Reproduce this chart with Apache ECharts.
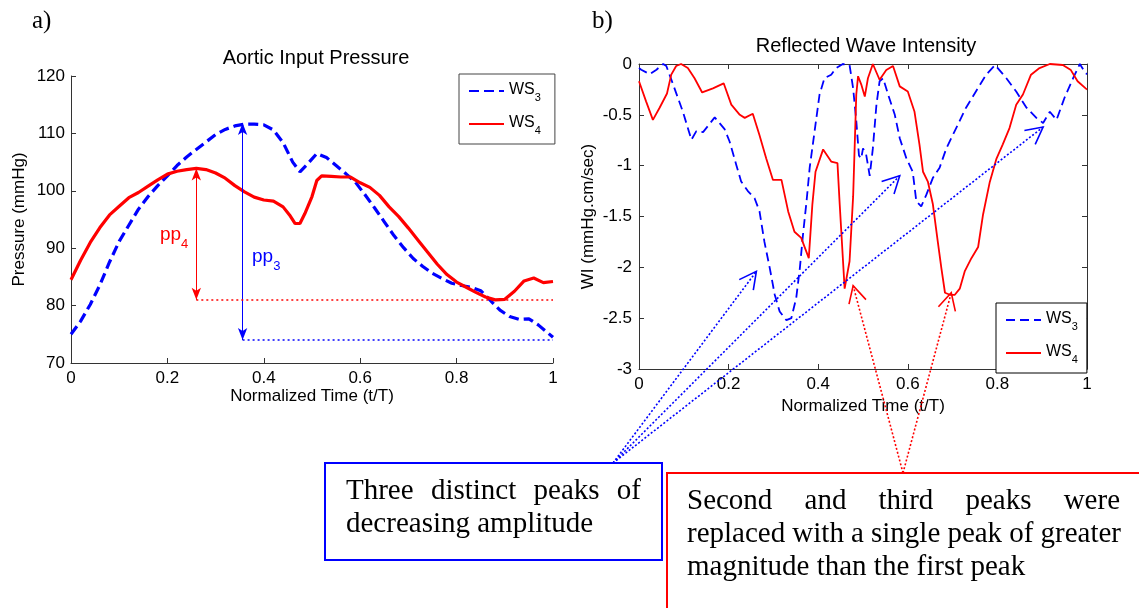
<!DOCTYPE html>
<html>
<head>
<meta charset="utf-8">
<title>Aortic input pressure and reflected wave intensity</title>
<script src="https://cdn.jsdelivr.net/npm/echarts@6/dist/echarts.min.js"></script>
<style>
  html, body { margin: 0; padding: 0; background: #fff; }
  #main { width: 1139px; height: 608px; }
</style>
</head>
<body>
<div id="main"></div>
<script>
// a) aortic input pressure (mmHg) against normalized time
var pressTimeWS3 = [0, 0.02, 0.04, 0.06, 0.08, 0.10, 0.12, 0.14, 0.16, 0.18, 0.20, 0.22, 0.24, 0.26, 0.28,
  0.30, 0.32, 0.34, 0.36, 0.38, 0.40, 0.42, 0.44, 0.46, 0.475, 0.49, 0.51, 0.53, 0.55, 0.57, 0.59, 0.61,
  0.63, 0.65, 0.67, 0.69, 0.71, 0.73, 0.75, 0.77, 0.79, 0.81, 0.83, 0.85, 0.87, 0.89, 0.91, 0.93, 0.95,
  0.97, 0.99, 1.0]
var pressWS3 = [75.0, 77.3, 80.2, 83.6, 87.6, 91.2, 94.0, 96.8, 99.0, 100.9, 102.6, 104.4, 105.9, 107.2, 108.5,
  109.8, 110.7, 111.3, 111.6, 111.6, 111.5, 110.6, 108.4, 105.0, 103.3, 104.6, 106.5, 105.8, 104.4, 103.0, 101.5, 99.3,
  97.0, 94.6, 92.2, 90.1, 88.2, 86.8, 85.6, 84.7, 83.9, 83.5, 83.2, 82.6, 80.9, 79.2, 78.1, 77.6, 77.7,
  76.6, 75.2, 74.5]
var pressTimeWS4 = [0, 0.02, 0.04, 0.06, 0.08, 0.10, 0.12, 0.14, 0.16, 0.18, 0.20, 0.22, 0.24, 0.26, 0.28,
  0.30, 0.32, 0.34, 0.36, 0.38, 0.40, 0.42, 0.44, 0.455, 0.465, 0.475, 0.485, 0.50, 0.51, 0.52, 0.54, 0.56,
  0.58, 0.60, 0.62, 0.64, 0.66, 0.68, 0.70, 0.72, 0.74, 0.76, 0.78, 0.80, 0.82, 0.84, 0.86, 0.88, 0.90,
  0.92, 0.94, 0.96, 0.98, 1.0]
var pressWS4 = [84.5, 87.9, 91.0, 93.6, 95.8, 97.3, 98.8, 99.7, 100.8, 101.9, 102.9, 103.4, 103.7, 103.9, 103.7,
  103.1, 102.2, 100.9, 99.8, 98.9, 98.4, 98.2, 97.2, 95.6, 94.3, 94.3, 96.0, 99.0, 101.8, 102.6, 102.5, 102.4,
  102.4, 101.4, 100.6, 99.2, 97.2, 95.5, 93.5, 91.4, 89.3, 87.2, 85.4, 84.1, 83.2, 82.3, 81.5, 81.0, 81.1,
  82.5, 84.3, 84.8, 84.0, 84.2]

// b) reflected wave intensity (mmHg.cm/sec)
var wiTimeWS3 = [0, 0.005, 0.024, 0.039, 0.054, 0.061, 0.076, 0.098, 0.117, 0.128,
  0.143, 0.169, 0.191, 0.202, 0.217, 0.228, 0.243, 0.258, 0.269, 0.280,
  0.292, 0.303, 0.314, 0.329, 0.340, 0.351, 0.359, 0.366, 0.374, 0.381,
  0.392, 0.403, 0.414, 0.429, 0.440, 0.455, 0.470, 0.478, 0.485, 0.491,
  0.496, 0.500, 0.507, 0.515, 0.522, 0.530, 0.537, 0.545, 0.556, 0.571,
  0.582, 0.597, 0.611, 0.619, 0.630, 0.641, 0.656, 0.671, 0.686, 0.708,
  0.730, 0.752, 0.775, 0.795, 0.820, 0.842, 0.865, 0.887, 0.902, 0.917,
  0.932, 0.950, 0.969, 0.984, 0.997, 1.0]
var wiWS3 = [-0.04, -0.056, -0.10, -0.056, 0, -0.02, -0.20, -0.47, -0.745, -0.66,
  -0.67, -0.525, -0.64, -0.76, -0.99, -1.155, -1.25, -1.32, -1.45, -1.75,
  -2.01, -2.27, -2.435, -2.52, -2.50, -2.30, -2.01, -1.68, -1.35, -1.02,
  -0.66, -0.30, -0.14, -0.105, -0.04, 0, -0.01, -0.24, -0.56, -0.90,
  -0.93, -0.83, -0.89, -1.10, -0.83, -0.40, -0.17, -0.14, -0.30, -0.50,
  -0.73, -0.93, -1.06, -1.35, -1.40, -1.29, -1.12, -1.02, -0.83, -0.63,
  -0.43, -0.27, -0.105, -0.01, -0.14, -0.27, -0.43, -0.53, -0.58, -0.47,
  -0.55, -0.33, -0.14, 0, -0.09, -0.10]
var wiTimeWS4 = [0, 0.016, 0.031, 0.046, 0.0625, 0.072, 0.083, 0.094, 0.109, 0.124,
  0.141, 0.165, 0.189, 0.206, 0.225, 0.236, 0.254, 0.269, 0.284, 0.299,
  0.318, 0.333, 0.347, 0.362, 0.379, 0.387, 0.394, 0.411, 0.429, 0.443,
  0.448, 0.459, 0.470, 0.478, 0.485, 0.489, 0.496, 0.504, 0.511, 0.522,
  0.537, 0.552, 0.567, 0.582, 0.600, 0.615, 0.626, 0.634, 0.645, 0.656,
  0.667, 0.675, 0.683, 0.694, 0.705, 0.716, 0.727, 0.742, 0.757, 0.768,
  0.783, 0.798, 0.812, 0.827, 0.842, 0.857, 0.875, 0.894, 0.917, 0.946,
  0.964, 0.979, 0.997, 1.0]
var wiWS4 = [-0.17, -0.37, -0.55, -0.43, -0.29, -0.105, -0.02, 0, -0.04, -0.14,
  -0.28, -0.24, -0.19, -0.40, -0.50, -0.53, -0.49, -0.70, -0.93, -1.14,
  -1.14, -1.45, -1.65, -1.71, -1.91, -1.38, -1.06, -0.84, -0.96, -0.975,
  -1.38, -2.21, -1.94, -1.30, -0.30, -0.12, -0.20, -0.32, -0.14, 0,
  -0.155, -0.06, -0.02, -0.22, -0.27, -0.47, -0.79, -1.06, -1.16, -1.38,
  -1.75, -2.01, -2.25, -2.27, -2.27, -2.21, -2.04, -1.91, -1.80, -1.48,
  -1.16, -0.93, -0.79, -0.63, -0.40, -0.30, -0.105, -0.04, 0, -0.01,
  -0.06, -0.17, -0.24, -0.25]

// pulse pressure markers: [t, peak, foot]
var pp3 = [0.356, 111.8, 74]
var pp4 = [0.26, 103.9, 81]
// peaks the callout arrows point at
var peaksWS3 = [[0.262, -2.04], [0.582, -1.10], [0.902, -0.62]]
var peaksWS4 = [[0.478, -2.18], [0.697, -2.25]]

var blueNote = [['Three', 'distinct', 'peaks', 'of'], ['decreasing', 'amplitude']]
var redNote = [['Second', 'and', 'third', 'peaks', 'were'],
  ['replaced', 'with', 'a', 'single', 'peak', 'of', 'greater'],
  ['magnitude', 'than', 'the', 'first', 'peak']]

var sans = "'Liberation Sans', Arial, sans-serif"
var serif = "'Liberation Serif', 'Times New Roman', serif"
var blue = '#0000ff'
var red = '#ff0000'

function zip (t, v) {
  return t.map(function (x, i) { return [x, v[i]] })
}

function xAxisOf (grid, extra) {
  return Object.assign({
    gridIndex: grid,
    type: 'value',
    min: 0,
    max: 1,
    interval: 0.2,
    nameLocation: 'middle',
    nameTextStyle: { fontSize: 17, fontFamily: sans, color: '#000' },
    axisLine: { onZero: false, lineStyle: { color: '#333', width: 1 } },
    axisTick: { inside: true, length: 5, lineStyle: { color: '#333' } },
    axisLabel: { fontSize: 17, fontFamily: sans, color: '#000', margin: 7 },
    splitLine: { show: false }
  }, extra)
}

function yAxisOf (grid, min, max, step, extra) {
  return Object.assign({
    gridIndex: grid,
    type: 'value',
    min: min,
    max: max,
    interval: step,
    nameLocation: 'middle',
    nameRotate: 90,
    nameTextStyle: { fontSize: 17, fontFamily: sans, color: '#000' },
    axisLine: { show: true, onZero: false, lineStyle: { color: '#333', width: 1 } },
    axisTick: { show: true, inside: true, length: 5, lineStyle: { color: '#333' } },
    axisLabel: { fontSize: 17, fontFamily: sans, color: '#000', margin: 6 },
    splitLine: { show: false }
  }, extra)
}

var subRich = {
  n: { fontSize: 19, fontFamily: sans, lineHeight: 20, verticalAlign: 'top' },
  s: { fontSize: 13, fontFamily: sans, lineHeight: 14, padding: [13, 0, 0, 0], verticalAlign: 'top' }
}

function legendOf (names, left, top, border, padRight) {
  return {
    data: names,
    orient: 'vertical',
    left: left,
    top: top,
    selectedMode: false,
    backgroundColor: '#fff',
    borderColor: border,
    borderWidth: 1,
    borderRadius: 0,
    padding: [8, padRight, 8, 9],
    itemWidth: 35,
    itemHeight: 14,
    itemGap: 12,
    itemStyle: { opacity: 0 },
    formatter: function (name) { return '{n|WS}{s|' + name.charAt(2) + '}' },
    textStyle: {
      color: '#000',
      rich: {
        n: { fontSize: 16, fontFamily: sans, lineHeight: 18, verticalAlign: 'top' },
        s: { fontSize: 11, fontFamily: sans, lineHeight: 12, padding: [10, 0, 0, 0], verticalAlign: 'top' }
      }
    }
  }
}

var chart = echarts.init(document.getElementById('main'))

var option = {
  animation: false,
  backgroundColor: '#fff',
  title: [
    { text: 'Aortic Input Pressure', left: 311, top: 43, textAlign: 'center',
      textStyle: { fontSize: 20, fontWeight: 'normal', fontFamily: sans, color: '#000' } },
    { text: 'Reflected Wave Intensity', left: 861, top: 31, textAlign: 'center',
      textStyle: { fontSize: 20, fontWeight: 'normal', fontFamily: sans, color: '#000' } }
  ],
  legend: [
    legendOf(['WS3 pressure', 'WS4 pressure'], 459, 74, '#444', 14),
    legendOf(['WS3 WI', 'WS4 WI'], 996, 303, '#000', 9)
  ],
  grid: [
    { left: 71, top: 76, width: 482, height: 287 },
    { left: 639, top: 64, width: 448, height: 305 }
  ],
  xAxis: [
    xAxisOf(0, { name: 'Normalized Time (t/T)', nameGap: 25 }),
    xAxisOf(1, { name: 'Normalized Time (t/T)', nameGap: 27 }),
    xAxisOf(1, { position: 'top', axisLabel: { show: false } })
  ],
  yAxis: [
    yAxisOf(0, 70, 120, 10, { name: 'Pressure (mmHg)', nameGap: 43 }),
    yAxisOf(1, -3, 0, 0.5, { name: 'WI (mmHg.cm/sec)', nameGap: 42, axisLabel: { fontSize: 17, fontFamily: sans, color: '#000', margin: 7 } }),
    yAxisOf(1, -3, 0, 0.5, { position: 'right', axisLabel: { show: false } })
  ],
  series: [
    {
      name: 'WS3 pressure',
      type: 'line',
      xAxisIndex: 0,
      yAxisIndex: 0,
      data: zip(pressTimeWS3, pressWS3),
      symbol: 'none',
      silent: true,
      lineStyle: { color: blue, width: 3.2, type: [10, 5] },
      itemStyle: { color: blue },
      markLine: {
        silent: true,
        symbol: ['arrow', 'arrow'],
        symbolSize: [7, 12],
        label: { show: false },
        data: [
          [{ coord: [pp3[0], pp3[1]], lineStyle: { color: blue, width: 1, type: 'solid' } }, { coord: [pp3[0], pp3[2]] }],
          [{ coord: [pp3[0], pp3[2]], symbol: 'none', lineStyle: { color: blue, width: 1.5, type: [2, 3] } },
            { coord: [1, pp3[2]], symbol: 'none' }]
        ]
      },
      markPoint: {
        silent: true,
        symbolSize: 0,
        label: { show: true, position: 'inside', color: blue, formatter: '{n|pp}{s|3}', rich: subRich },
        data: [{ coord: [0.405, 88.5] }]
      }
    },
    {
      name: 'WS4 pressure',
      type: 'line',
      xAxisIndex: 0,
      yAxisIndex: 0,
      data: zip(pressTimeWS4, pressWS4),
      symbol: 'none',
      silent: true,
      lineStyle: { color: red, width: 3.2 },
      itemStyle: { color: red },
      markLine: {
        silent: true,
        symbol: ['arrow', 'arrow'],
        symbolSize: [7, 12],
        label: { show: false },
        data: [
          [{ coord: [pp4[0], pp4[1]], lineStyle: { color: red, width: 1, type: 'solid' } }, { coord: [pp4[0], pp4[2]] }],
          [{ coord: [pp4[0], pp4[2]], symbol: 'none', lineStyle: { color: red, width: 1.5, type: [2, 3] } },
            { coord: [1, pp4[2]], symbol: 'none' }]
        ]
      },
      markPoint: {
        silent: true,
        symbolSize: 0,
        label: { show: true, position: 'inside', color: red, formatter: '{n|pp}{s|4}', rich: subRich },
        data: [{ coord: [0.214, 92.3] }]
      }
    },
    {
      name: 'WS3 WI',
      type: 'line',
      xAxisIndex: 1,
      yAxisIndex: 1,
      data: zip(wiTimeWS3, wiWS3),
      symbol: 'none',
      silent: true,
      lineStyle: { color: blue, width: 1.8, type: [9, 5] },
      itemStyle: { color: blue }
    },
    {
      name: 'WS4 WI',
      type: 'line',
      xAxisIndex: 1,
      yAxisIndex: 1,
      data: zip(wiTimeWS4, wiWS4),
      symbol: 'none',
      silent: true,
      lineStyle: { color: red, width: 1.8 },
      itemStyle: { color: red }
    }
  ]
}

chart.setOption(option)

// callout boxes, justified like the original caption text
var ctx = document.createElement('canvas').getContext('2d')
var noteSize = 29
ctx.font = noteSize + 'px ' + serif

function noteLine (words, x0, x1, baseline, justify) {
  var widths = words.map(function (w) { return ctx.measureText(w).width })
  var total = widths.reduce(function (a, b) { return a + b }, 0)
  var gap = justify ? (x1 - x0 - total) / (words.length - 1) : ctx.measureText(' ').width
  var x = x0
  return words.map(function (w, i) {
    var el = {
      type: 'text',
      x: x,
      y: baseline - 10,
      z: 60,
      style: { text: w, fontSize: noteSize, fontFamily: serif, fill: '#000', verticalAlign: 'middle' }
    }
    x += widths[i] + gap
    return el
  })
}

// dotted callout arrow from a box corner to a point on the WI chart
function callout (from, target, color) {
  var tip = chart.convertToPixel({ gridIndex: 1 }, target)
  var ang = Math.atan2(tip[1] - from[1], tip[0] - from[0])
  var len = 19
  var spread = 0.48
  var w1 = [tip[0] - len * Math.cos(ang - spread), tip[1] - len * Math.sin(ang - spread)]
  var w2 = [tip[0] - len * Math.cos(ang + spread), tip[1] - len * Math.sin(ang + spread)]
  return [
    { type: 'line', z: 70, shape: { x1: from[0], y1: from[1], x2: tip[0], y2: tip[1] },
      style: { stroke: color, lineWidth: 1.6, lineDash: [2, 2] } },
    { type: 'polyline', z: 70, shape: { points: [w1, tip, w2] },
      style: { stroke: color, lineWidth: 1.6, fill: null } }
  ]
}

var graphics = [
  { type: 'text', x: 32, y: 21, style: { text: 'a)', fontSize: 25, fontFamily: serif, fill: '#000', verticalAlign: 'middle' } },
  { type: 'text', x: 592, y: 21, style: { text: 'b)', fontSize: 25, fontFamily: serif, fill: '#000', verticalAlign: 'middle' } },
  { type: 'rect', z: 50, shape: { x: 325, y: 463, width: 337, height: 97 },
    style: { fill: '#fff', stroke: blue, lineWidth: 2 } },
  { type: 'rect', z: 50, shape: { x: 667, y: 473, width: 490, height: 160 },
    style: { fill: '#fff', stroke: red, lineWidth: 2 } }
]
graphics = graphics
  .concat(noteLine(blueNote[0], 346, 641, 501, true))
  .concat(noteLine(blueNote[1], 346, 641, 534, false))
  .concat(noteLine(redNote[0], 687, 1120, 511, true))
  .concat(noteLine(redNote[1], 687, 1121, 544, true))
  .concat(noteLine(redNote[2], 687, 1121, 577, false))

peaksWS3.forEach(function (p) { graphics = graphics.concat(callout([613, 463], p, blue)) })
peaksWS4.forEach(function (p) { graphics = graphics.concat(callout([903, 473], p, red)) })

chart.setOption({ graphic: graphics })
</script>
</body>
</html>
